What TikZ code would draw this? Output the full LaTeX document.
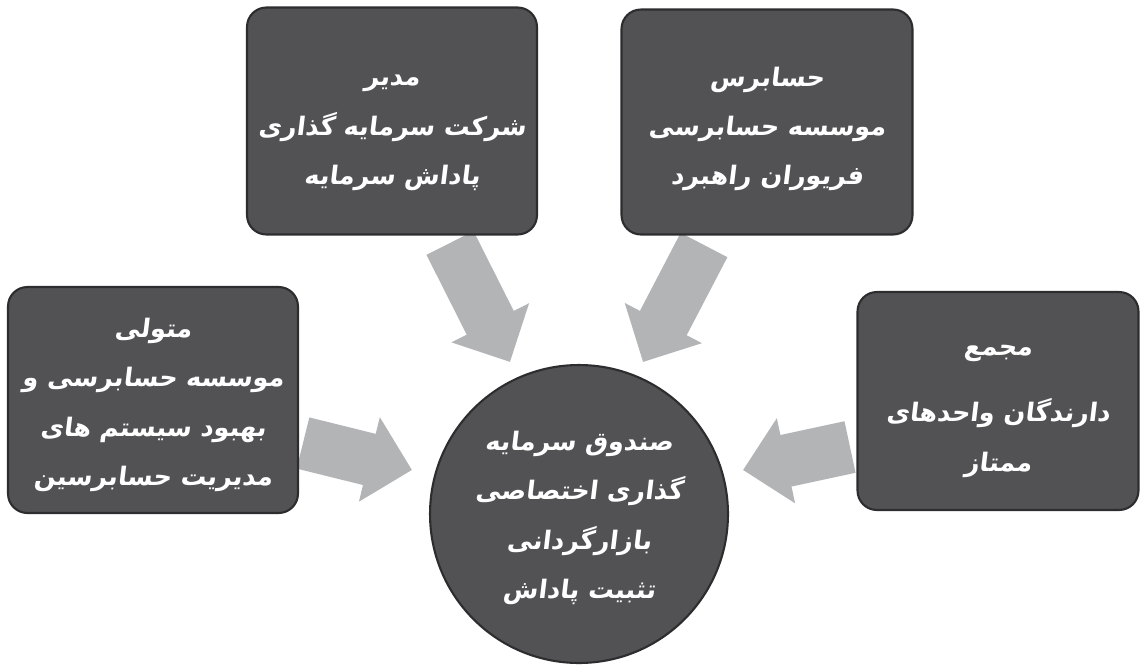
\documentclass[tikz,border=0pt]{standalone}
\usepackage{fontspec}
\usetikzlibrary{arrows.meta}
\TeXXeTstate=1
\newfontfamily\fafont[Script=Arabic,FakeSlant=0.12]{DejaVu Sans Bold}
\newcommand{\fa}[1]{\beginR #1\endR}
\definecolor{boxfill}{RGB}{82,82,85}
\definecolor{boxedge}{RGB}{45,45,48}
\definecolor{arrowgray}{RGB}{178,180,182}
\tikzset{
  panel/.style={draw=boxedge, line width=1.2pt, fill=boxfill, rounded corners=11pt,
    inner sep=0pt},
  hub/.style={draw=boxedge, line width=1.2pt, fill=boxfill, circle, minimum size=5.96cm,
    inner sep=0pt},
  txt/.style={text=white, align=center, inner sep=0pt,
    font=\fafont\fontsize{14.5}{28}\selectfont},
  bigarrow/.style={draw=arrowgray, line width=30pt,
    -{Triangle[width=48pt,length=25pt,fill=arrowgray]}}
}
\begin{document}
\begin{tikzpicture}[x=0.02cm,y=-0.02cm]
\useasboundingbox (0,0) rectangle (1141,666);
\fill[white] (0,0) rectangle (1141,666);
% arrows
\coordinate (a1s) at (450,243); \coordinate (a1e) at (510,362);
\coordinate (a2s) at (704,245); \coordinate (a2e) at (643,362);
\coordinate (a3s) at (303,443); \coordinate (a3e) at (412,470);
\coordinate (a4s) at (850,447); \coordinate (a4e) at (743,470);
\draw[bigarrow] (a1s) -- (a1e);
\draw[bigarrow] (a2s) -- (a2e);
\draw[bigarrow] (a3s) -- (a3e);
\draw[bigarrow] (a4s) -- (a4e);
% boxes
\node[panel, minimum width=5.8cm, minimum height=4.54cm] (mgr) at (392,121) {};
\node[panel, minimum width=5.82cm, minimum height=4.5cm] (aud) at (767,122) {};
\node[panel, minimum width=5.8cm, minimum height=4.52cm] (cust) at (153,400) {};
\node[panel, minimum width=5.62cm, minimum height=4.36cm] (asm) at (998,401) {};
\node[hub] (fund) at (579,514) {};
% texts
\node[txt] (mgrT) at (392,133)
  {\fa{مدیر}\\ \fa{شرکت سرمایه گذاری}\\ \fa{پاداش سرمایه}};
\node[txt] (audT) at (767,129)
  {\fa{حسابرس}\\ \fa{موسسه حسابرسی}\\ \fa{فریوران راهبرد}};
\node[txt] (custT) at (153,405)
  {\fa{متولی}\\ \fa{موسسه حسابرسی و}\\ \fa{بهبود سیستم های}\\ \fa{مدیریت حسابرسین}};
\node[txt] (asmT) at (998,411)
  {\fa{مجمع}\\[10pt] \fa{دارندگان واحدهای}\\ \fa{ممتاز}};
\node[txt] (fundT) at (579,518)
  {\fa{صندوق سرمایه}\\ \fa{گذاری اختصاصی}\\ \fa{بازارگردانی}\\ \fa{تثبیت پاداش}};
\end{tikzpicture}
\end{document}
